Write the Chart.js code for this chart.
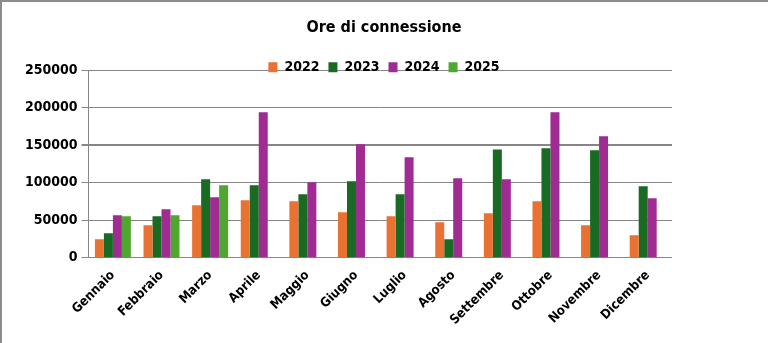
<!DOCTYPE html>
<html>
<head>
<meta charset="utf-8">
<script src="https://cdn.jsdelivr.net/npm/chart.js@4"></script>
<style>
  html, body { margin: 0; padding: 0; background: #fff; }
  #wrap { position: relative; width: 768px; height: 343px; }
  #frame {
    position: absolute; left: 0; top: 0; width: 766px; height: 341px;
    border-top: 2px solid #8c8c8c; border-left: 2px solid #8c8c8c;
    pointer-events: none;
  }
</style>
</head>
<body>
<div id="wrap">
  <canvas id="chart" width="768" height="343"></canvas>
  <div id="frame"></div>
</div>
<script>
const months = ['Gennaio', 'Febbraio', 'Marzo', 'Aprile', 'Maggio', 'Giugno',
  'Luglio', 'Agosto', 'Settembre', 'Ottobre', 'Novembre', 'Dicembre'];

const ore2022 = [24400, 43100, 69800, 76400, 75100, 60400, 55100, 47100, 59100, 75100, 43100, 29800];
const ore2023 = [32400, 55100, 104400, 96400, 84400, 101800, 84400, 24400, 144400, 145800, 143100, 95100];
const ore2024 = [56400, 64400, 80400, 193800, 100400, 151100, 133800, 105800, 104400, 193800, 161800, 79100];
const ore2025 = [55100, 56400, 96400, null, null, null, null, null, null, null, null, null];

const yTicks = [0, 50000, 100000, 150000, 200000, 250000];

const FONT = '"DejaVu Sans Condensed", "DejaVu Sans", sans-serif';
const gridGray = '#868686';

// title and legend centred on the whole canvas, legend sitting on the top gridline
const headerPlacement = {
  id: 'headerPlacement',
  afterLayout(chart) {
    const mid = chart.width / 2;
    const t = chart.titleBlock;
    const tdx = mid - (t.left + t.right) / 2;
    t.left += tdx;
    t.right += tdx;

    const l = chart.legend;
    const pad = l.options.labels.padding;
    const size = l.options.labels.font.size;
    const dy = (chart.chartArea.top - 3) - (l.top + pad + size / 2);
    const dx = mid - (l.left + l.right) / 2;
    l.top += dy;
    l.bottom += dy;
    l.left += dx;
    l.right += dx;
  }
};

new Chart(document.getElementById('chart'), {
  type: 'bar',
  data: {
    labels: months,
    datasets: [
      { label: '2022', data: ore2022, backgroundColor: '#E97132' },
      { label: '2023', data: ore2023, backgroundColor: '#196B24' },
      { label: '2024', data: ore2024, backgroundColor: '#A02B93' },
      { label: '2025', data: ore2025, backgroundColor: '#4EA72E' },
    ],
  },
  options: {
    responsive: false,
    animation: false,
    categoryPercentage: 0.74,
    barPercentage: 1.0,
    layout: { padding: { left: 21, right: 96, top: 0, bottom: 13 } },
    plugins: {
      title: {
        display: true,
        text: 'Ore di connessione',
        color: '#000',
        font: { family: FONT, size: 16, weight: 'bold' },
        padding: { top: 18, bottom: 0 },
      },
      legend: {
        position: 'top',
        labels: {
          color: '#000',
          font: { family: FONT, size: 14, weight: 'bold' },
          boxWidth: 9,
          boxHeight: 10,
          padding: 9,
        },
      },
      tooltip: { enabled: false },
    },
    scales: {
      x: {
        grid: { display: false },
        border: { display: false },
        ticks: {
          color: '#000',
          font: { family: FONT, size: 13, weight: 'bold' },
          minRotation: 45,
          maxRotation: 45,
          padding: 2,
        },
      },
      y: {
        min: 0,
        max: 250000,
        afterBuildTicks(axis) {
          axis.ticks = yTicks.map((v) => ({ value: v }));
        },
        grid: {
          color: gridGray,
          lineWidth: (ctx) => (ctx.tick && ctx.tick.value === 150000 ? 2 : 1),
          tickLength: 7,
        },
        border: { display: true, color: gridGray, width: 1 },
        ticks: {
          color: '#000',
          font: { family: FONT, size: 14, weight: 'bold' },
          padding: 4,
          callback: (v) => String(v),
        },
      },
    },
  },
  plugins: [headerPlacement],
});
</script>
</body>
</html>
